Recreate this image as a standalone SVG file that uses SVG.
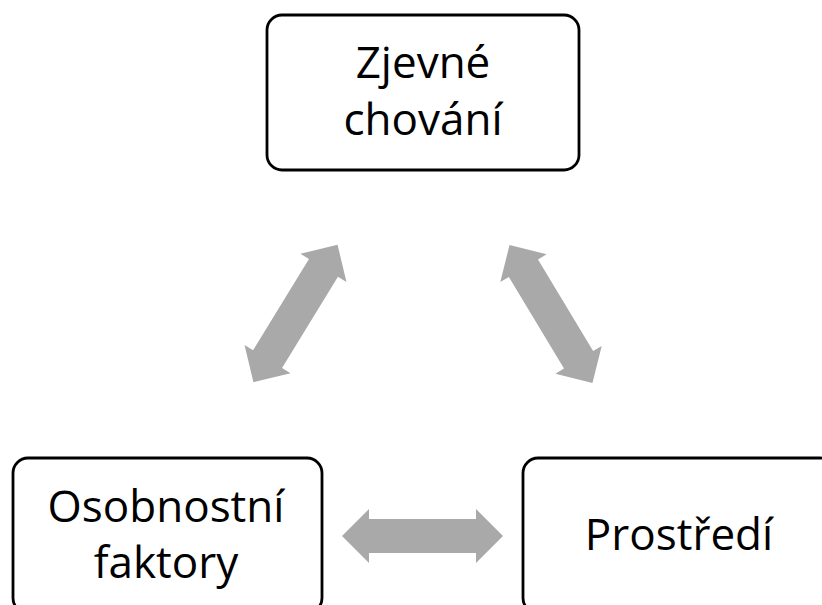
<svg xmlns="http://www.w3.org/2000/svg" xmlns:xlink="http://www.w3.org/1999/xlink" width="822" height="605" viewBox="0 0 822 605">
<style>
.box{fill:#fff;stroke:#000;stroke-width:2.8}
.lbl{font-family:"Open Sans","Noto Sans",sans-serif;font-size:44px;fill:#000;text-anchor:middle}
.arr{fill:#A9A9A9}
</style>
<defs>
<path id="dbl" d="M -80.5 0 L -53.5 -27 L -53.5 -17 L 53.5 -17 L 53.5 -27 L 80.5 0 L 53.5 27 L 53.5 17 L -53.5 17 L -53.5 27 Z"/>
</defs>
<rect width="822" height="605" fill="#fff"/>
<g id="connectors">
<use xlink:href="#dbl" class="arr" transform="translate(295.5,313.5) rotate(-58.5)"/>
<use xlink:href="#dbl" class="arr" transform="translate(551,314) rotate(59)"/>
<use xlink:href="#dbl" class="arr" transform="translate(422.5,536)"/>
</g>
<g id="node-zjevne">
<rect class="box" x="267" y="15" width="312" height="155" rx="15"/>
<text class="lbl" x="423" y="78">Zjevné</text>
<text class="lbl" x="423" y="135">chování</text>
</g>
<g id="node-osobnostni">
<rect class="box" x="13" y="458" width="309" height="155" rx="15"/>
<text class="lbl" x="166" y="522">Osobnostní</text>
<text class="lbl" x="166" y="578">faktory</text>
</g>
<g id="node-prostredi">
<rect class="box" x="523" y="458" width="312" height="155" rx="15"/>
<text class="lbl" x="679" y="550">Prostředí</text>
</g>
</svg>
